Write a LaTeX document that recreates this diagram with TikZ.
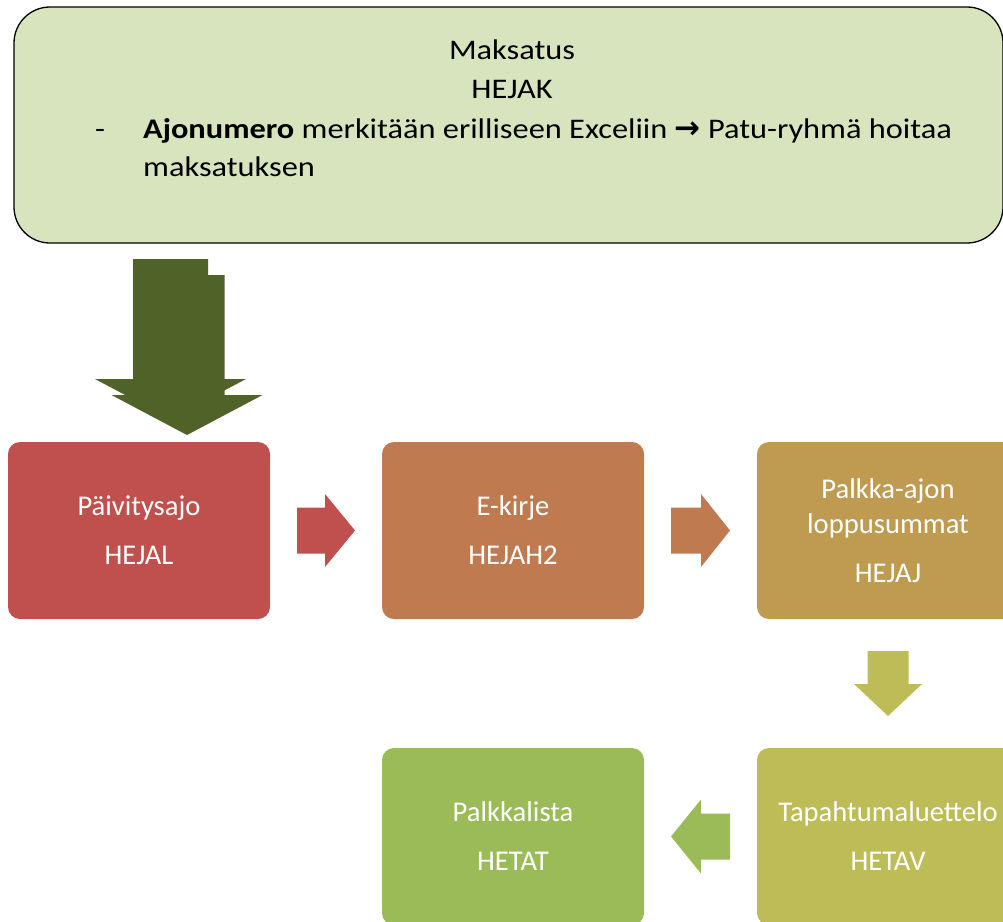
\documentclass[tikz,border=0pt]{standalone}
\usepackage{fontspec}
\setmainfont{Carlito}
\newfontfamily\topfont{Carlito}[FakeStretch=1.14]
\newfontfamily\arrowfont{DejaVu Sans}
\usetikzlibrary{calc}
\definecolor{topfill}{RGB}{215,228,189}
\definecolor{bigarrow}{RGB}{79,98,40}
\definecolor{cA}{RGB}{192,80,77}
\definecolor{cB}{RGB}{192,122,80}
\definecolor{cC}{RGB}{191,155,82}
\definecolor{cD}{RGB}{190,188,86}
\definecolor{cE}{RGB}{155,187,89}
\tikzset{
  stepbox/.style={rectangle, rounded corners=12pt, minimum width=262pt, minimum height=177pt,
    inner sep=0pt, text=white, align=center, font=\fontsize{28.6}{35}\selectfont},
  toptext/.style={inner sep=0pt, font=\topfont\fontsize{28.4}{38}\selectfont},
  pics/barrow/.style n args={4}{code={
    \path[pic actions]
      ({-(#2+#4)/2},{-#1}) -- ({-(#2+#4)/2+#2},{-#1}) -- ({-(#2+#4)/2+#2},{-#3})
      -- ({(#2+#4)/2},0) -- ({-(#2+#4)/2+#2},{#3}) -- ({-(#2+#4)/2+#2},{#1})
      -- ({-(#2+#4)/2},{#1}) -- cycle;
  }}
}
\begin{document}
\begin{tikzpicture}[x=1pt,y=-1pt]
\clip (0,0) rectangle (1003,921);
\fill[white] (0,0) rectangle (1003,921);
% top box
\node[draw, fill=topfill, rounded corners=36pt, line width=1.3pt, minimum width=989pt,
      minimum height=236pt, inner sep=0pt] (top) at (508.5,125) {};
\node[toptext, anchor=base] (t1) at (512,59) {Maksatus};
\node[toptext, anchor=base] (t2) at (512,98) {HEJAK};
\node[toptext, anchor=base west] (t3) at (95,138) {-};
\node[toptext, anchor=base west] (t4) at (143,138) {\textbf{Ajonumero} merkitään erilliseen Exceliin {\arrowfont\bfseries\fontsize{31}{31}\selectfont →} Patu-ryhmä hoitaa};
\node[toptext, anchor=base west] (t5) at (143,176) {maksatuksen};
% big arrow
\pic[fill=bigarrow, rotate=-90] at (170.5,339) {barrow={37.5}{120}{75.5}{40}};
\pic[fill=bigarrow, rotate=-90] at (187,355) {barrow={37.5}{120}{75.5}{40}};
% step boxes
\node[stepbox, fill=cA] (b1) at (139,530.5) {Päivitysajo\\[14pt]HEJAL};
\node[stepbox, fill=cB] (b2) at (513,530.5) {E-kirje\\[14pt]HEJAH2};
\node[stepbox, fill=cC] (b3) at (888,530.5) {Palkka-ajon\\loppusummat\\[14pt]HEJAJ};
\node[stepbox, fill=cD] (b4) at (888,836.5) {Tapahtumaluettelo\\[14pt]HETAV};
\node[stepbox, fill=cE] (b5) at (513,836.5) {Palkkalista\\[14pt]HETAT};
% connectors
\pic[fill=cA] at ($(b1.east)!0.5!(b2.west)$) {barrow={23}{28}{36.5}{30}};
\pic[fill=cB] at ($(b2.east)!0.5!(b3.west)$) {barrow={23}{30}{36.5}{29}};
\pic[fill=cD, rotate=-90] at ($(b3.south)!0.5!(b4.north)$) {barrow={20.5}{33}{34}{32}};
\pic[fill=cE, rotate=180] at ($(b4.west)!0.5!(b5.east)$) {barrow={23}{29}{37}{30}};
\end{tikzpicture}
\end{document}
